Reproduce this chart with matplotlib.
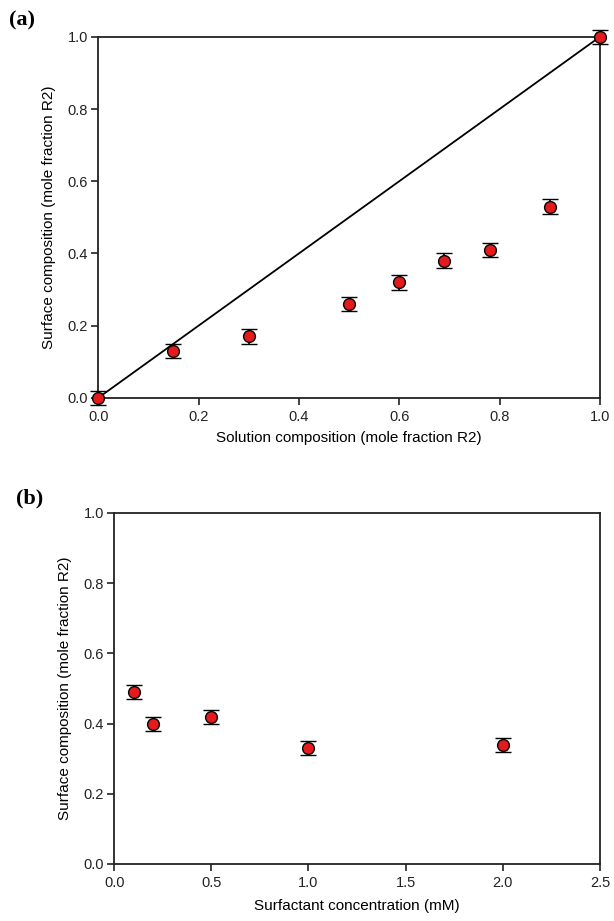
import matplotlib
matplotlib.use('Agg')
import matplotlib.pyplot as plt
import numpy as np

# Panel (a) data
sol_x = [0.0, 0.15, 0.30, 0.50, 0.60, 0.69, 0.78, 0.90, 1.0]
surf_a = [0.0, 0.13, 0.17, 0.26, 0.32, 0.38, 0.41, 0.53, 1.0]
err_a = [0.02, 0.02, 0.02, 0.02, 0.02, 0.02, 0.02, 0.02, 0.02]

# Panel (b) data
conc_x = [0.1, 0.2, 0.5, 1.0, 2.0]
surf_b = [0.49, 0.40, 0.42, 0.33, 0.34]
err_b = [0.02, 0.02, 0.02, 0.02, 0.02]

plt.rcParams['font.family'] = ['Liberation Sans', 'DejaVu Sans']

fig = plt.figure(figsize=(6.14, 9.21), dpi=100)
ax1 = fig.add_axes([0.160, 0.568, 0.817, 0.392])
ax2 = fig.add_axes([0.186, 0.062, 0.791, 0.381])

def style(ax):
    for s in ax.spines.values():
        s.set_linewidth(1.3)
        s.set_color('#222222')
    ax.tick_params(direction='out', length=5, width=1.2, labelsize=10.5,
                   colors='#222222', top=False, right=False)
    ax.tick_params(axis='y', pad=2.5)

def points(ax, x, y, e):
    ax.errorbar(x, y, yerr=e, fmt='o', ms=8.5, mfc='#e41a1c', mec='black', mew=1.0,
                ecolor='black', elinewidth=1.2, capsize=5.5, capthick=1.2,
                clip_on=False, zorder=3)

# (a)
ax1.plot([0, 1], [0, 1], color='black', lw=1.3, zorder=2)
points(ax1, sol_x, surf_a, err_a)
ax1.set_xlim(0, 1)
ax1.set_ylim(0, 1)
ax1.set_xticks(np.arange(0, 1.01, 0.2))
ax1.set_yticks(np.arange(0, 1.01, 0.2))
ax1.set_xticklabels(['0.0', '0.2', '0.4', '0.6', '0.8', '1.0'])
ax1.set_yticklabels(['0.0', '0.2', '0.4', '0.6', '0.8', '1.0'])
ax1.set_xlabel('Solution composition (mole fraction R2)', fontsize=11, labelpad=5)
ax1.set_ylabel('Surface composition (mole fraction R2)', fontsize=11, labelpad=8)
style(ax1)

# (b)
points(ax2, conc_x, surf_b, err_b)
ax2.set_xlim(0, 2.5)
ax2.set_ylim(0, 1)
ax2.set_xticks(np.arange(0, 2.51, 0.5))
ax2.set_yticks(np.arange(0, 1.01, 0.2))
ax2.set_xticklabels(['0.0', '0.5', '1.0', '1.5', '2.0', '2.5'])
ax2.set_yticklabels(['0.0', '0.2', '0.4', '0.6', '0.8', '1.0'])
ax2.set_xlabel('Surfactant concentration (mM)', fontsize=11, labelpad=7)
ax2.set_ylabel('Surface composition (mole fraction R2)', fontsize=11, labelpad=8)
style(ax2)

fig.text(0.015, 0.978, '(a)', fontsize=16, fontweight='bold',
         family=['Liberation Serif', 'DejaVu Serif'], va='center', ha='left')
fig.text(0.026, 0.459, '(b)', fontsize=16, fontweight='bold',
         family=['Liberation Serif', 'DejaVu Serif'], va='center', ha='left')

plt.savefig('out.png', dpi=100, facecolor='white')
plt.close()
